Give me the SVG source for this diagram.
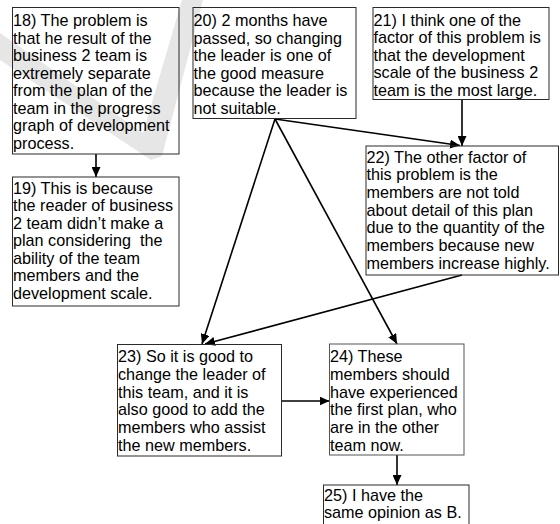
<svg xmlns="http://www.w3.org/2000/svg" width="560" height="524" viewBox="0 0 560 524">
<style>
.box{fill:none;stroke:#2a2a2a;stroke-width:1}
.t{font-family:"Liberation Sans",Arial,sans-serif;font-size:16.2px;fill:#000;white-space:pre}
.c{fill:none;stroke:#000;stroke-width:1.6;marker-end:url(#ah)}
</style>
<defs>
<marker id="ah" markerUnits="userSpaceOnUse" markerWidth="10" markerHeight="9" refX="10" refY="4.5" orient="auto">
<path d="M0,0 L10,4.5 L0,9 Z" fill="#000"/>
</marker>
</defs>
<rect width="560" height="524" fill="#fff"/>
<polygon id="watermark" points="0,33 143,133 182,0 203,0 162,156 151,160 0,60" fill="#e6e6e6"/>
<g id="connectors">
<line class="c" x1="96" y1="154" x2="96" y2="177"/>
<line class="c" x1="462" y1="99.5" x2="462" y2="146"/>
<line class="c" x1="275" y1="119" x2="460" y2="145.5"/>
<line class="c" x1="275" y1="119" x2="202" y2="344"/>
<line class="c" x1="275" y1="119" x2="397" y2="344"/>
<line class="c" x1="462" y1="275" x2="205" y2="344"/>
<line class="c" x1="281.5" y1="401" x2="329.5" y2="401"/>
<line class="c" x1="397" y1="455" x2="397" y2="485"/>
</g>
<g id="n18">
<rect class="box" x="12.5" y="7.5" width="166.5" height="146.5"/>
<text class="t"><tspan x="13" y="26">18) The problem is</tspan><tspan x="13" y="43.5">that he result of the</tspan><tspan x="13" y="61">business 2 team is</tspan><tspan x="13" y="78.5">extremely separate</tspan><tspan x="13" y="96">from the plan of the</tspan><tspan x="13" y="113.5">team in the progress</tspan><tspan x="13" y="131">graph of development</tspan><tspan x="13" y="148.5">process.</tspan></text>
</g>
<g id="n20">
<rect class="box" x="193" y="7.5" width="163" height="111"/>
<text class="t"><tspan x="193.5" y="26">20) 2 months have</tspan><tspan x="193.5" y="43.5">passed, so changing</tspan><tspan x="193.5" y="61">the leader is one of</tspan><tspan x="193.5" y="78.5">the good measure</tspan><tspan x="193.5" y="96">because the leader is</tspan><tspan x="193.5" y="113.5">not suitable.</tspan></text>
</g>
<g id="n21">
<rect class="box" x="373" y="7.5" width="176" height="92"/>
<text class="t"><tspan x="373.5" y="25.5">21) I think one of the</tspan><tspan x="373.5" y="43">factor of this problem is</tspan><tspan x="373.5" y="60.5">that the development</tspan><tspan x="373.5" y="78">scale of the business 2</tspan><tspan x="373.5" y="95.5">team is the most large.</tspan></text>
</g>
<g id="n22">
<rect class="box" x="366" y="146" width="192.5" height="129"/>
<text class="t"><tspan x="366.5" y="162.7">22) The other factor of</tspan><tspan x="366.5" y="180.3">this problem is the</tspan><tspan x="366.5" y="198">members are not told</tspan><tspan x="366.5" y="215.6">about detail of this plan</tspan><tspan x="366.5" y="233.3">due to the quantity of the</tspan><tspan x="366.5" y="251">members because new</tspan><tspan x="366.5" y="268.6">members increase highly.</tspan></text>
</g>
<g id="n19">
<rect class="box" x="12.5" y="177" width="166.5" height="129"/>
<text class="t"><tspan x="13" y="193.5">19) This is because</tspan><tspan x="13" y="211">the reader of business</tspan><tspan x="13" y="228.6">2 team didn’t make a</tspan><tspan x="13" y="246.2">plan considering  the</tspan><tspan x="13" y="263.8">ability of the team</tspan><tspan x="13" y="281.4">members and the</tspan><tspan x="13" y="299">development scale.</tspan></text>
</g>
<g id="n23">
<rect class="box" x="117.5" y="344.5" width="164" height="111.5"/>
<text class="t"><tspan x="118" y="362.3">23) So it is good to</tspan><tspan x="118" y="380">change the leader of</tspan><tspan x="118" y="397.6">this team, and it is</tspan><tspan x="118" y="415.3">also good to add the</tspan><tspan x="118" y="433">members who assist</tspan><tspan x="118" y="450.6">the new members.</tspan></text>
</g>
<g id="n24">
<rect class="box" x="329.5" y="344" width="134.5" height="111" style="stroke:#555"/>
<text class="t"><tspan x="330" y="362.3">24) These</tspan><tspan x="330" y="380">members should</tspan><tspan x="330" y="397.6">have experienced</tspan><tspan x="330" y="415.3">the first plan, who</tspan><tspan x="330" y="433">are in the other</tspan><tspan x="330" y="450.6">team now.</tspan></text>
</g>
<g id="n25">
<rect class="box" x="323.5" y="485" width="145.5" height="50"/>
<text class="t"><tspan x="324" y="500.7">25) I have the</tspan><tspan x="324" y="518.3">same opinion as B.</tspan></text>
</g>
</svg>
